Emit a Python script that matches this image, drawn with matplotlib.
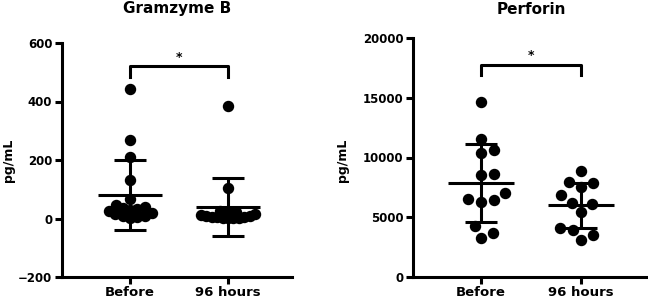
import numpy as np
import matplotlib.pyplot as plt

groups = ['Before', '96 hours']

# Granzyme B (pg/mL)
gzb_before = [443, 268, 211, 133, 65, 45, 38, 35, 33, 30, 25, 20, 15, 10, 8, 5, 3]
gzb_96h = [383, 103, 25, 22, 20, 18, 15, 12, 10, 8, 6, 5, 4, 3, 2, 2, 1]
gzb_mean = [79, 39]
gzb_sd = [120, 100]

# Perforin (pg/mL)
prf_before = [14650, 11580, 10600, 10380, 8650, 8510, 7030, 6560, 6420, 6280, 4270, 3710, 3290]
prf_96h = [8870, 7920, 7870, 7530, 6840, 6220, 6080, 5440, 4100, 3960, 3540, 3125]
prf_mean = [7870, 6000]
prf_sd = [3290, 1880]

FONT = 'DejaVu Sans'
LW = 2.2


def swarm_x(ax, xc, values, diam):
    # simple beeswarm: place points from bottom up, as close to the centre as possible
    trans = ax.transData
    pts = trans.transform(np.column_stack([np.full(len(values), xc), values]))
    order = np.argsort(values)
    placed = []
    offs = np.zeros(len(values))
    for i in order:
        y0 = pts[i, 1]
        cands = [0.0]
        for px, py in placed:
            dy = y0 - py
            if abs(dy) < diam:
                dx = np.sqrt(diam**2 - dy**2)
                cands += [px + dx, px - dx]
        cands.sort(key=abs)
        for c in cands:
            if all((c - px)**2 + (y0 - py)**2 >= diam**2 - 1e-6 for px, py in placed):
                break
        placed.append((c, y0))
        offs[i] = c
    back = trans.inverted().transform(np.column_stack([pts[:, 0] + offs, pts[:, 1]]))
    return back[:, 0]


def panel(ax, title, data, means, sds, ylim, yticks, xlim, bracket, star_y, title_xy, ylab_xy, diams):
    ax.set_xlim(*xlim)
    ax.set_ylim(*ylim)
    ax.set_yticks(yticks)
    ax.set_xticks([0, 1])
    ax.set_xticklabels(groups)
    for s in ['top', 'right']:
        ax.spines[s].set_visible(False)
    for s in ['left', 'bottom']:
        ax.spines[s].set_linewidth(LW)
    ax.tick_params(width=LW, length=5, labelsize=8.5, pad=2)
    ax.tick_params(axis='x', labelsize=9.5, pad=1.5)
    for lab in ax.get_xticklabels() + ax.get_yticklabels():
        lab.set_fontweight('bold')
        lab.set_family(FONT)

    for k, vals in enumerate(data):
        xs = swarm_x(ax, k, vals, diams[k])
        ax.scatter(xs, vals, s=52, color='black', zorder=3, clip_on=False)
        m, sd = means[k], sds[k]
        ax.hlines(m, k - 0.33, k + 0.33, color='black', lw=LW, zorder=4)
        ax.hlines([m - sd, m + sd], k - 0.16, k + 0.16, color='black', lw=LW, zorder=4)
        ax.vlines(k, m - sd, m + sd, color='black', lw=LW, zorder=4)

    lo, hi = bracket
    ax.plot([0, 0, 1, 1], [lo, hi, hi, lo], color='black', lw=LW, clip_on=False)
    ax.text(0.5, star_y, '*', ha='center', va='center', fontsize=9, fontweight='bold')

    fig.text(title_xy[0], title_xy[1], title, ha='center', va='center',
             fontsize=11, fontweight='bold', family=FONT)
    fig.text(ylab_xy[0], ylab_xy[1], 'pg/mL', ha='center', va='center', rotation=90,
             fontsize=9, fontweight='bold', family=FONT)


fig = plt.figure(figsize=(6.48, 3.06), dpi=100)
ax1 = fig.add_axes([62 / 648, 1 - 277 / 306, 230 / 648, 234 / 306])
ax2 = fig.add_axes([413 / 648, 1 - 277 / 306, 234 / 648, 239 / 306])

panel(ax1, 'Gramzyme B', [gzb_before, gzb_96h], gzb_mean, gzb_sd,
      (-200, 600), [-200, 0, 200, 400, 600], (-0.694, 1.653),
      (484, 521), 550, (177 / 648, 1 - 9 / 306), (8 / 648, 0.475), (7.5, 5.5))
panel(ax2, 'Perforin', [prf_before, prf_96h], prf_mean, prf_sd,
      (0, 20000), [0, 5000, 10000, 15000, 20000], (-0.68, 1.66),
      (16880, 17770), 18550, (531 / 648, 1 - 9 / 306), (342 / 648, 0.477), (13, 13))

fig.savefig('out.png', dpi=100)
